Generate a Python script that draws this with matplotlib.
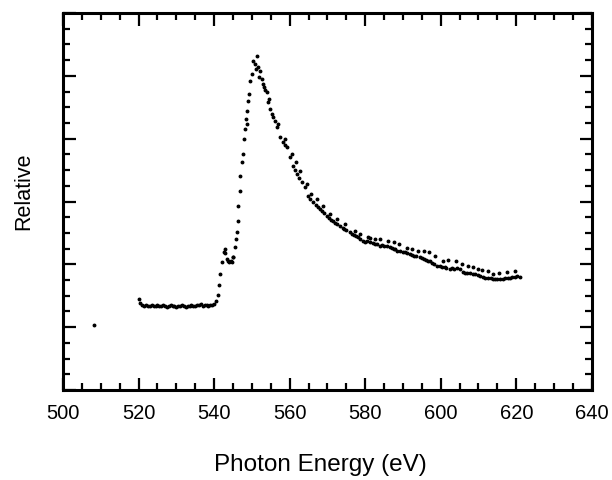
import matplotlib.pyplot as plt
from matplotlib.ticker import MultipleLocator

plt.rcParams['font.family'] = ['Liberation Sans', 'DejaVu Sans']

# main scan (photon energy in eV, relative intensity)
scan_a_ev = [520.0, 520.5, 521.0, 521.5, 522.0, 522.5, 523.0, 523.5, 524.0, 524.5,
             525.0, 525.5, 526.0, 526.5, 527.0, 527.5, 528.0, 528.5, 529.0, 529.5,
             530.0, 530.5, 531.0, 531.5, 532.0, 532.5, 533.0, 533.5, 534.0, 534.5,
             535.0, 535.5, 536.0, 536.5, 537.0, 537.5, 538.0, 538.5, 539.0, 539.5,
             540.0, 540.5, 541.0, 541.5, 542.0, 542.5, 543.0, 543.5, 544.0, 544.5,
             545.0, 545.5, 546.0, 546.3, 546.8, 547.4, 547.9, 548.4, 548.9, 549.5,
             550.3, 551.3, 552.1, 552.9, 553.6, 554.2, 554.8, 555.3, 556.1, 556.6,
             557.4, 558.2, 558.8, 559.3, 560.1, 560.8, 561.4, 561.9, 562.5, 563.2,
             564.0, 564.8, 565.5, 566.1, 567.0, 567.5, 568.0, 568.5, 569.0, 569.8,
             570.5, 571.0, 571.4, 572.0, 572.5, 573.3, 574.0, 574.5, 575.0, 575.9,
             576.5, 577.0, 577.5, 578.0, 578.5, 579.4, 580.0, 580.5, 581.2, 582.0,
             582.5, 583.0, 583.9, 584.5, 585.0, 585.7, 586.5, 587.0, 587.5, 588.0,
             588.5, 589.2, 590.0, 590.5, 591.0, 591.8, 592.5, 593.0, 593.5, 594.4,
             595.0, 595.5, 596.0, 596.5, 597.1, 597.8, 598.3, 599.0, 599.7, 600.3,
             601.0, 601.5, 602.4, 603.0, 603.5, 604.2, 605.0, 605.8, 606.5, 607.0,
             607.7, 608.5, 609.2, 609.8, 610.5, 611.1, 611.8, 612.5, 613.2, 613.8,
             614.5, 615.0, 615.7, 616.4, 617.0, 617.7, 618.4, 619.0, 619.7, 620.3,
             620.9]
scan_a_val = [1.45, 1.38, 1.35, 1.34, 1.36, 1.33, 1.34, 1.35, 1.33, 1.34,
              1.36, 1.33, 1.34, 1.35, 1.33, 1.32, 1.34, 1.35, 1.33, 1.34,
              1.32, 1.34, 1.33, 1.35, 1.33, 1.32, 1.34, 1.33, 1.35, 1.34,
              1.33, 1.36, 1.35, 1.37, 1.34, 1.36, 1.35, 1.34, 1.36, 1.35,
              1.37, 1.42, 1.52, 1.85, 2.04, 2.20, 2.18, 2.08, 2.03, 2.05,
              2.12, 2.28, 2.52, 2.93, 3.41, 3.63, 4.00, 4.32, 4.60, 4.92,
              5.24, 5.32, 5.08, 4.87, 4.78, 4.59, 4.47, 4.39, 4.28, 4.19,
              4.03, 3.95, 3.90, 3.87, 3.71, 3.57, 3.50, 3.44, 3.38, 3.31,
              3.23, 3.09, 3.04, 2.99, 2.94, 2.91, 2.88, 2.85, 2.82, 2.77,
              2.74, 2.71, 2.69, 2.66, 2.64, 2.61, 2.58, 2.57, 2.55, 2.52,
              2.49, 2.47, 2.45, 2.43, 2.41, 2.37, 2.36, 2.37, 2.36, 2.34,
              2.33, 2.32, 2.29, 2.30, 2.29, 2.29, 2.28, 2.26, 2.25, 2.24,
              2.22, 2.21, 2.20, 2.19, 2.18, 2.17, 2.15, 2.14, 2.13, 2.12,
              2.10, 2.09, 2.07, 2.06, 2.05, 2.02, 2.00, 1.98, 1.97, 1.96,
              1.95, 1.94, 1.93, 1.94, 1.93, 1.94, 1.93, 1.88, 1.87, 1.87,
              1.86, 1.85, 1.84, 1.83, 1.81, 1.80, 1.79, 1.78, 1.78, 1.77,
              1.76, 1.77, 1.77, 1.77, 1.78, 1.78, 1.79, 1.80, 1.80, 1.81,
              1.80]

# second scan, sits a little above in the tail
scan_b_ev = [508.2, 541.3, 542.8, 543.7, 544.7, 545.0, 545.8, 546.3, 546.8, 547.6,
             548.1, 548.7, 548.7, 549.2, 550.0, 550.8, 551.0, 551.6, 551.8, 552.6,
             553.2, 554.0, 554.5, 555.6, 556.9, 558.7, 560.6, 561.6, 562.7, 564.5,
             565.6, 567.2, 568.8, 570.6, 572.5, 574.6, 577.2, 578.5, 580.7, 581.2,
             582.5, 584.0, 586.0, 587.5, 589.0, 591.0, 592.5, 594.0, 595.5, 597.0,
             598.5, 600.7, 602.0, 604.0, 605.5, 607.3, 608.5, 610.0, 611.0, 612.5,
             613.8, 615.5, 617.5, 619.6]
scan_b_val = [1.03, 1.67, 2.25, 2.05, 2.04, 2.12, 2.40, 2.69, 3.17, 3.76,
              4.16, 4.24, 4.44, 4.71, 5.03, 5.19, 5.11, 5.14, 4.98, 4.95,
              4.82, 4.75, 4.63, 4.35, 4.23, 4.00, 3.76, 3.63, 3.49, 3.28,
              3.12, 3.04, 2.93, 2.80, 2.72, 2.64, 2.53, 2.48, 2.44, 2.42,
              2.41, 2.40, 2.37, 2.36, 2.33, 2.26, 2.25, 2.21, 2.22, 2.20,
              2.14, 2.05, 2.07, 2.05, 2.01, 1.97, 1.96, 1.93, 1.91, 1.90,
              1.85, 1.86, 1.88, 1.89]

fig = plt.figure(figsize=(6.12, 4.81), dpi=100)
ax = fig.add_axes([0.103, 0.187, 0.864, 0.784])

ax.plot(scan_a_ev, scan_a_val, ls='none', marker='o', ms=1.8, color='black')
ax.plot(scan_b_ev, scan_b_val, ls='none', marker='o', ms=1.8, color='black')

ax.set_xlim(500, 640)
ax.set_ylim(0, 6)
ax.xaxis.set_major_locator(MultipleLocator(20))
ax.xaxis.set_minor_locator(MultipleLocator(5))
ax.yaxis.set_major_locator(MultipleLocator(1))
ax.yaxis.set_minor_locator(MultipleLocator(0.25))
ax.tick_params(which='both', direction='in', top=True, right=True, width=1.6)
ax.tick_params(which='major', length=9)
ax.tick_params(which='minor', length=5)
ax.tick_params(axis='x', labelsize=14.5, pad=9)
ax.tick_params(axis='y', labelleft=False)
for s in ax.spines.values():
    s.set_linewidth(2.2)

ax.set_xlabel('Photon Energy (eV)', fontsize=17.5)
ax.set_ylabel('Relative', fontsize=15.5)
ax.xaxis.set_label_coords(0.487, -0.168)
ax.yaxis.set_label_coords(-0.054, 0.53)

fig.savefig('out.png', dpi=100)
